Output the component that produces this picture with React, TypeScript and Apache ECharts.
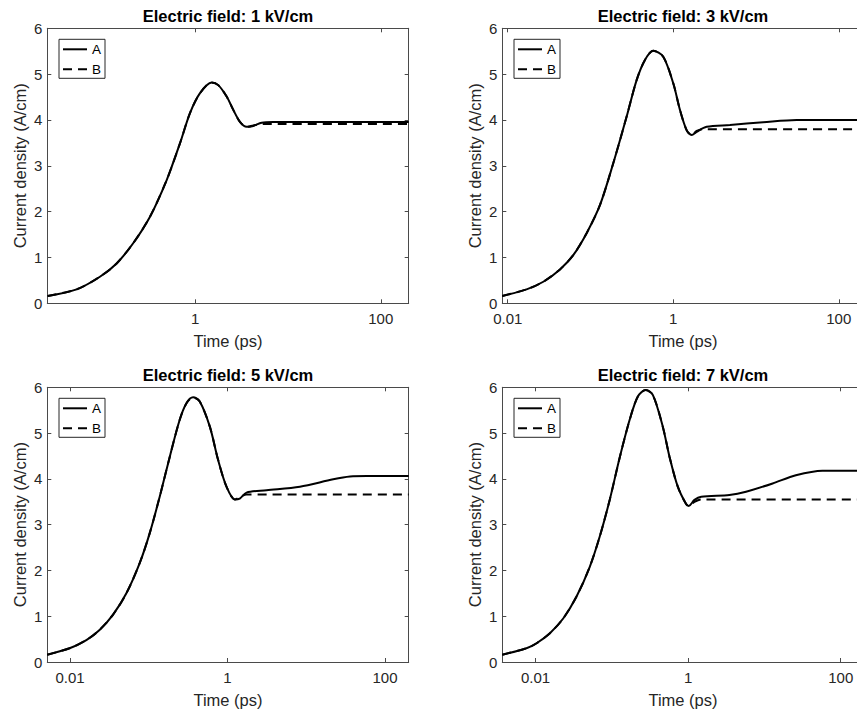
import React, { useEffect, useRef } from "react";
import * as echarts from "echarts";

// ---------- data ----------
const fieldLabels = ["1", "3", "5", "7"]; // kV/cm
const seriesNames = ["A", "B"];
const yTicks = [0, 1, 2, 3, 4, 5, 6];
const xTickLabels = ["0.01", "1", "100"];
const xMins = [0.0254, 0.0086, 0.00514, 0.00366];
const xMaxs = [200, 200, 200, 200];

// Electric field 1 kV/cm
const timeA1 = [0.0256, 0.0526, 0.0938, 0.142, 0.214, 0.325, 0.492, 0.684, 0.877, 1.12, 1.5, 1.77, 2.18, 2.57, 3.03, 3.58, 4.22, 5.2, 6.9, 20, 200];
const curA1 = [0.16, 0.305, 0.58, 0.87, 1.31, 1.89, 2.69, 3.49, 4.15, 4.58, 4.82, 4.76, 4.51, 4.22, 3.96, 3.85, 3.87, 3.94, 3.955, 3.956, 3.956];
const timeB1 = [0.0256, 0.0526, 0.0938, 0.142, 0.214, 0.325, 0.492, 0.684, 0.877, 1.12, 1.5, 1.77, 2.18, 2.57, 3.03, 3.58, 4.22, 5.2, 200];
const curB1 = [0.16, 0.305, 0.58, 0.87, 1.31, 1.89, 2.69, 3.49, 4.15, 4.58, 4.82, 4.76, 4.51, 4.22, 3.96, 3.85, 3.88, 3.91, 3.91];

// Electric field 3 kV/cm
const timeA2 = [0.00859, 0.0169, 0.0269, 0.0428, 0.0619, 0.0898, 0.13, 0.188, 0.273, 0.361, 0.455, 0.573, 0.757, 1.0, 1.205, 1.45, 1.67, 1.92, 2.53, 4.84, 12.2, 31, 200];
const curA2 = [0.16, 0.305, 0.47, 0.74, 1.05, 1.53, 2.14, 3.05, 4.07, 4.87, 5.31, 5.51, 5.38, 4.8, 4.22, 3.78, 3.67, 3.74, 3.85, 3.89, 3.95, 4.0, 4.0];
const timeB2 = [0.00859, 0.0169, 0.0269, 0.0428, 0.0619, 0.0898, 0.13, 0.188, 0.273, 0.361, 0.455, 0.573, 0.757, 1.0, 1.205, 1.45, 1.67, 1.92, 2.3, 200];
const curB2 = [0.16, 0.305, 0.47, 0.74, 1.05, 1.53, 2.14, 3.05, 4.07, 4.87, 5.31, 5.51, 5.38, 4.8, 4.22, 3.78, 3.67, 3.76, 3.8, 3.8];

// Electric field 5 kV/cm
const timeA3 = [0.00513, 0.00986, 0.0161, 0.0237, 0.035, 0.0519, 0.0766, 0.1026, 0.1376, 0.1845, 0.247, 0.301, 0.365, 0.444, 0.596, 0.76, 0.97, 1.24, 1.43, 1.74, 3.13, 8.3, 22, 36, 58.7, 200];
const curA3 = [0.16, 0.3, 0.48, 0.7, 1.03, 1.5, 2.16, 2.81, 3.61, 4.48, 5.29, 5.65, 5.78, 5.69, 5.14, 4.41, 3.83, 3.55, 3.57, 3.7, 3.75, 3.83, 3.99, 4.05, 4.06, 4.06];
const timeB3 = [0.00513, 0.00986, 0.0161, 0.0237, 0.035, 0.0519, 0.0766, 0.1026, 0.1376, 0.1845, 0.247, 0.301, 0.365, 0.444, 0.596, 0.76, 0.97, 1.24, 1.43, 1.74, 200];
const curB3 = [0.16, 0.3, 0.48, 0.7, 1.03, 1.5, 2.16, 2.81, 3.61, 4.48, 5.29, 5.65, 5.78, 5.69, 5.14, 4.41, 3.83, 3.55, 3.6, 3.66, 3.66];

// Electric field 7 kV/cm
const timeA4 = [0.00366, 0.0076, 0.0103, 0.0154, 0.023, 0.0344, 0.0513, 0.0693, 0.0936, 0.126, 0.171, 0.219, 0.277, 0.345, 0.465, 0.57, 0.731, 0.94, 1.02, 1.21, 1.48, 3.47, 5.73, 12.8, 25.8, 57.5, 200];
const curA4 = [0.16, 0.3, 0.41, 0.63, 0.95, 1.43, 2.08, 2.74, 3.54, 4.45, 5.29, 5.8, 5.94, 5.83, 5.14, 4.48, 3.83, 3.45, 3.41, 3.54, 3.61, 3.65, 3.72, 3.9, 4.08, 4.18, 4.18];
const timeB4 = [0.00366, 0.0076, 0.0103, 0.0154, 0.023, 0.0344, 0.0513, 0.0693, 0.0936, 0.126, 0.171, 0.219, 0.277, 0.345, 0.465, 0.57, 0.731, 0.94, 1.02, 1.21, 1.48, 200];
const curB4 = [0.16, 0.3, 0.41, 0.63, 0.95, 1.43, 2.08, 2.74, 3.54, 4.45, 5.29, 5.8, 5.94, 5.83, 5.14, 4.48, 3.83, 3.45, 3.41, 3.5, 3.55, 3.55];

const timesA = [timeA1, timeA2, timeA3, timeA4];
const valuesA = [curA1, curA2, curA3, curA4];
const timesB = [timeB1, timeB2, timeB3, timeB4];
const valuesB = [curB1, curB2, curB3, curB4];

// ---------- layout ----------
const FONT = "'Liberation Sans', Arial, Helvetica, sans-serif";
const AXIS_COLOR = "#4a4a4a";
const TEXT_COLOR = "#262626";
const grids = [
  { left: 47.3, top: 28.3, width: 361.4, height: 275 },
  { left: 502.3, top: 28.3, width: 361.4, height: 275 },
  { left: 47.3, top: 387.3, width: 361.4, height: 274.7 },
  { left: 502.3, top: 387.3, width: 361.4, height: 274.7 },
];

function zip(xs: number[], ys: number[]) {
  return xs.map((x, i) => [x, ys[i]]);
}

function xLabelFormatter(v: number) {
  const s = String(Number(v.toPrecision(6)));
  return xTickLabels.indexOf(s) >= 0 ? s : "";
}

function buildOption() {
  const grid: any[] = [];
  const xAxis: any[] = [];
  const yAxis: any[] = [];
  const series: any[] = [];
  const legend: any[] = [];

  grids.forEach((g, i) => {
    grid.push({ ...g, outerBoundsMode: "none", containLabel: false });
    const common = {
      gridIndex: i,
      axisLine: { show: true, onZero: false, lineStyle: { color: AXIS_COLOR, width: 1 } },
      axisTick: { show: true, inside: true, length: 4, lineStyle: { color: AXIS_COLOR } },
      splitLine: { show: false },
      minorTick: { show: false },
      minorSplitLine: { show: false },
    };
    const xCommon = { ...common, type: "log", logBase: 100, min: xMins[i], max: xMaxs[i] };
    xAxis.push({
      ...xCommon,
      position: "bottom",
      name: "Time (ps)",
      nameLocation: "middle",
      nameGap: 29,
      nameTextStyle: { fontSize: 16.5, color: TEXT_COLOR, fontFamily: FONT },
      axisLabel: {
        show: true,
        margin: 8,
        fontSize: 15,
        color: TEXT_COLOR,
        fontFamily: FONT,
        formatter: xLabelFormatter,
        showMinLabel: true,
        showMaxLabel: true,
        hideOverlap: false,
      },
    });
    xAxis.push({
      ...xCommon,
      position: "top",
      name: "Electric field: " + fieldLabels[i] + " kV/cm",
      nameLocation: "middle",
      nameGap: 4,
      nameTextStyle: { fontSize: 16.5, fontWeight: "bold", color: "#000", fontFamily: FONT },
      axisLabel: { show: false },
    });
    const yCommon = { ...common, type: "value", min: yTicks[0], max: yTicks[yTicks.length - 1], interval: 1 };
    yAxis.push({
      ...yCommon,
      position: "left",
      name: "Current density (A/cm)",
      nameLocation: "middle",
      nameRotate: 90,
      nameGap: 19,
      nameTextStyle: { fontSize: 16.5, color: TEXT_COLOR, fontFamily: FONT },
      axisLabel: { show: true, margin: 5, fontSize: 15, color: TEXT_COLOR, fontFamily: FONT },
    });
    yAxis.push({ ...yCommon, position: "right", axisLabel: { show: false } });

    series.push({
      name: seriesNames[0],
      type: "line",
      xAxisIndex: 2 * i,
      yAxisIndex: 2 * i,
      data: zip(timesA[i], valuesA[i]),
      symbol: "none",
      smooth: 0.3,
      lineStyle: { color: "#000", width: 2, type: "solid" },
      itemStyle: { color: "#000" },
      z: 2,
    });
    series.push({
      name: seriesNames[1],
      type: "line",
      xAxisIndex: 2 * i,
      yAxisIndex: 2 * i,
      data: zip(timesB[i], valuesB[i]),
      symbol: "none",
      smooth: 0.3,
      lineStyle: { color: "#000", width: 2, type: [9, 6] },
      itemStyle: { color: "#000" },
      z: 3,
    });

    legend.push({
      data: seriesNames,
      orient: "vertical",
      left: g.left + 11.7,
      top: g.top + 11,
      itemWidth: 24,
      itemHeight: 14,
      itemGap: 6,
      padding: [3, 4, 2, 3],
      borderColor: "#262626",
      borderWidth: 1,
      borderRadius: 0,
      backgroundColor: "#fff",
      selectedMode: false,
      itemStyle: { opacity: 0, borderWidth: 0 },
      textStyle: { fontSize: 13.5, color: "#000", fontFamily: FONT, padding: 0 },
    });
  });

  return {
    animation: false,
    backgroundColor: "#fff",
    textStyle: { fontFamily: FONT },
    grid,
    xAxis,
    yAxis,
    legend,
    series,
  };
}

export default function App() {
  const ref = useRef<HTMLDivElement>(null);
  useEffect(() => {
    if (!ref.current) return;
    const chart = echarts.init(ref.current, null, { renderer: "svg" });
    chart.setOption(buildOption() as any);
    return () => chart.dispose();
  }, []);
  return (
    <div
      ref={ref}
      style={{ position: "fixed", left: 0, top: 0, width: 857, height: 713, background: "#fff" }}
    />
  );
}
